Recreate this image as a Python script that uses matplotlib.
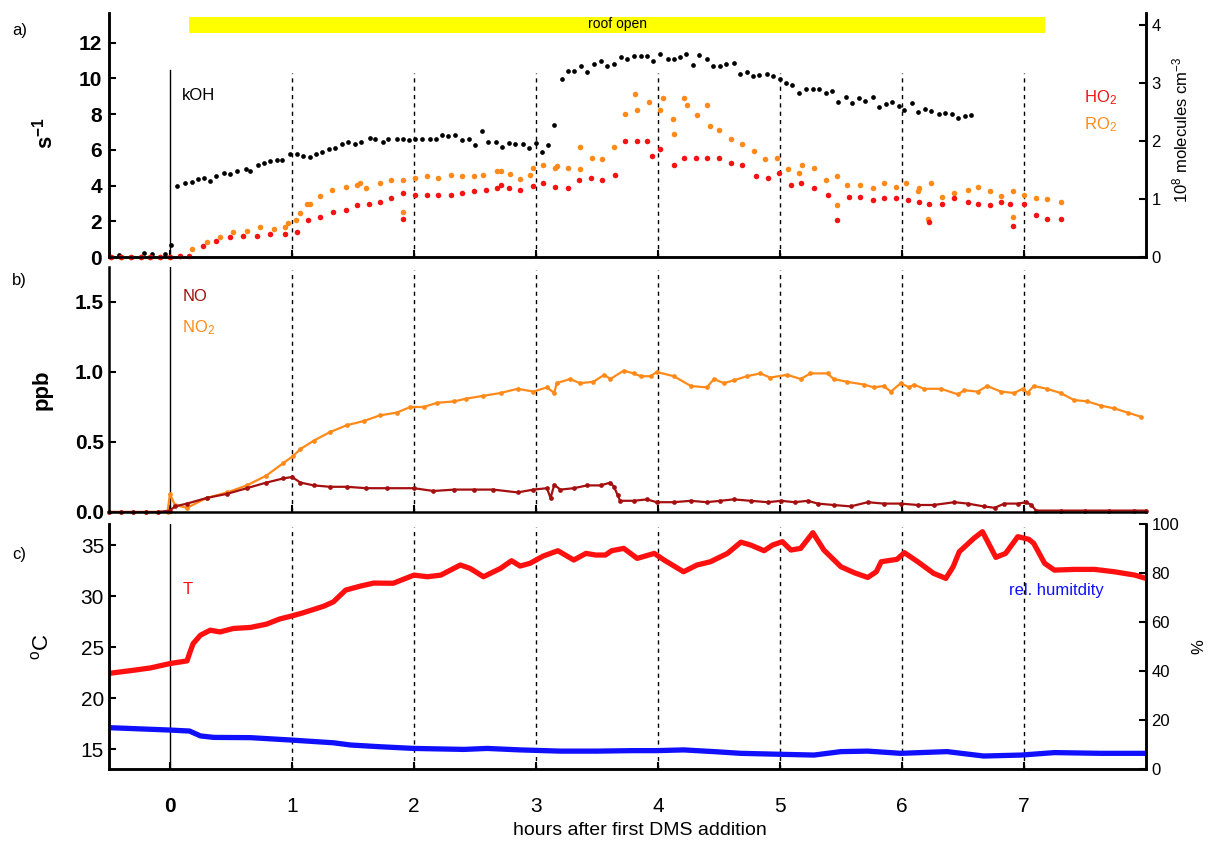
import matplotlib
matplotlib.use("Agg")
import matplotlib.pyplot as plt

plt.rcParams["font.family"] = ["Liberation Sans", "DejaVu Sans"]
plt.rcParams["mathtext.default"] = "regular"

# ---- data (hours after first DMS addition) ----
roof_open = (0.16, 7.17)

koh_t = [-0.42, -0.21, -0.15, -0.04, 0.01,
         0.06, 0.12, 0.18, 0.23, 0.28, 0.33, 0.38, 0.44, 0.49, 0.55,
         0.62, 0.66, 0.72, 0.77, 0.82, 0.88, 0.92, 0.98, 1.04, 1.09,
         1.15, 1.20, 1.25, 1.30, 1.35, 1.41, 1.46, 1.52, 1.57, 1.64,
         1.68, 1.75, 1.79, 1.86, 1.91, 1.96, 2.01, 2.07, 2.13, 2.18,
         2.23, 2.28, 2.34, 2.39, 2.45, 2.50, 2.56, 2.61, 2.67, 2.72,
         2.78, 2.83, 2.89, 2.94, 3.00, 3.05, 3.10, 3.15, 3.21, 3.26,
         3.31, 3.37, 3.42, 3.48, 3.53, 3.58, 3.64, 3.70, 3.75, 3.80,
         3.86, 3.91, 3.96, 4.02, 4.08, 4.13, 4.18, 4.23, 4.29, 4.34,
         4.40, 4.45, 4.51, 4.56, 4.62, 4.67, 4.73, 4.78, 4.83, 4.89,
         4.94, 5.00, 5.05, 5.10, 5.16, 5.21, 5.27, 5.32, 5.38, 5.43,
         5.48, 5.54, 5.59, 5.65, 5.70, 5.76, 5.81, 5.87, 5.92, 5.98,
         6.02, 6.08, 6.13, 6.19, 6.24, 6.30, 6.35, 6.41, 6.46, 6.52,
         6.57]
koh = [0.13, 0.23, 0.19, 0.19, 0.66,
       3.99, 4.12, 4.22, 4.37, 4.41, 4.26, 4.56, 4.71, 4.62, 4.84,
       4.95, 4.79, 5.14, 5.28, 5.35, 5.41, 5.45, 5.75, 5.75, 5.67,
       5.59, 5.79, 5.90, 6.03, 6.12, 6.35, 6.44, 6.31, 6.46, 6.69,
       6.58, 6.44, 6.58, 6.63, 6.58, 6.54, 6.58, 6.59, 6.58, 6.63,
       6.84, 6.76, 6.82, 6.54, 6.63, 6.27, 7.05, 6.42, 6.42, 6.18,
       6.37, 6.35, 6.33, 6.10, 6.40, 5.90, 6.27, 7.40, 9.98, 10.40,
       10.40, 10.72, 10.36, 10.83, 11.00, 10.72, 10.79, 11.21, 11.06, 11.28,
       11.24, 11.28, 10.98, 11.38, 11.10, 11.06, 11.19, 11.38, 10.77, 11.32,
       11.06, 10.68, 10.68, 10.79, 10.85, 10.23, 10.38, 10.11, 10.17, 10.25,
       10.11, 9.97, 9.74, 9.63, 9.21, 9.42, 9.40, 9.40, 9.21, 9.27,
       8.70, 8.98, 8.64, 8.89, 8.74, 8.95, 8.38, 8.57, 8.70, 8.47,
       8.23, 8.64, 8.14, 8.29, 8.19, 7.99, 8.08, 8.01, 7.80, 7.91,
       7.95]

# HO2 / RO2 in 1e8 molecules cm-3
ro2_t = [-0.48, -0.40, -0.32, -0.24, -0.16, -0.08, 0.00, 0.08,
         0.18, 0.30, 0.41, 0.52, 0.63, 0.74, 0.85, 0.94, 0.97, 1.03,
         1.07, 1.12, 1.15, 1.23, 1.33, 1.44, 1.53, 1.56, 1.61, 1.72,
         1.81, 1.91, 1.91, 2.01, 2.11, 2.20, 2.30, 2.39, 2.49, 2.57,
         2.68, 2.71, 2.79, 2.87, 2.95, 2.98, 3.06, 3.16, 3.17, 3.26,
         3.36, 3.36, 3.46, 3.54, 3.64, 3.73, 3.81, 3.83, 3.93, 4.02,
         4.04, 4.12, 4.13, 4.21, 4.24, 4.32, 4.40, 4.43, 4.50, 4.60,
         4.69, 4.79, 4.88, 4.98, 5.07, 5.16, 5.18, 5.28, 5.38, 5.47,
         5.47, 5.55, 5.66, 5.76, 5.85, 5.95, 6.03, 6.13, 6.14, 6.21,
         6.24, 6.33, 6.43, 6.54, 6.62, 6.72, 6.81, 6.91, 6.91, 7.00,
         7.10, 7.19, 7.30]
ro2 = [0, 0, 0, 0, 0, 0, 0, 0.01,
       0.135, 0.25, 0.34, 0.425, 0.455, 0.51, 0.49, 0.51, 0.58, 0.63,
       0.75, 0.92, 0.91, 1.05, 1.16, 1.21, 1.24, 1.28, 1.19, 1.27,
       1.32, 0.78, 1.33, 1.36, 1.39, 1.36, 1.42, 1.40, 1.39, 1.42,
       1.48, 1.48, 1.43, 1.35, 1.42, 1.54, 1.59, 1.54, 1.56, 1.54,
       1.51, 1.89, 1.71, 1.68, 1.89, 2.47, 2.80, 2.53, 2.67, 2.53,
       2.73, 2.38, 2.12, 2.73, 2.61, 2.44, 2.61, 2.26, 2.18, 2.03,
       1.94, 1.83, 1.68, 1.71, 1.51, 1.45, 1.59, 1.54, 1.33, 1.39,
       0.89, 1.24, 1.24, 1.19, 1.27, 1.21, 1.27, 1.13, 1.19, 0.66,
       1.28, 1.04, 1.11, 1.16, 1.20, 1.13, 1.05, 1.13, 0.69, 1.07,
       1.01, 1.00, 0.95]

ho2_t = [-0.48, -0.40, -0.32, -0.24, -0.16, -0.08, 0.00, 0.08,
         0.16, 0.27, 0.38, 0.49, 0.60, 0.71, 0.82, 0.94, 1.04, 1.13,
         1.23, 1.34, 1.44, 1.53, 1.63, 1.72, 1.81, 1.91, 1.91, 2.01,
         2.11, 2.20, 2.30, 2.39, 2.49, 2.59, 2.68, 2.71, 2.78, 2.87,
         2.98, 3.06, 3.16, 3.26, 3.35, 3.45, 3.54, 3.65, 3.73, 3.83,
         3.91, 3.95, 4.02, 4.13, 4.21, 4.31, 4.40, 4.50, 4.60, 4.69,
         4.80, 4.90, 4.99, 5.09, 5.17, 5.28, 5.39, 5.47, 5.57, 5.66,
         5.76, 5.85, 5.95, 6.05, 6.14, 6.22, 6.22, 6.33, 6.43, 6.54,
         6.62, 6.72, 6.81, 6.89, 6.91, 7.00, 7.10, 7.19, 7.30]
ho2 = [0, 0, 0, 0, 0, 0, 0, 0.01,
       0.02, 0.19, 0.28, 0.34, 0.37, 0.37, 0.40, 0.40, 0.43, 0.63,
       0.69, 0.78, 0.81, 0.89, 0.92, 0.95, 1.01, 0.66, 1.10, 1.07,
       1.07, 1.07, 1.07, 1.10, 1.13, 1.16, 1.19, 1.24, 1.19, 1.16,
       1.23, 1.27, 1.21, 1.19, 1.33, 1.36, 1.33, 1.42, 2.00, 2.00,
       2.00, 1.74, 1.86, 1.59, 1.71, 1.71, 1.71, 1.71, 1.62, 1.59,
       1.39, 1.36, 1.44, 1.24, 1.27, 1.19, 1.07, 0.63, 1.04, 1.04,
       0.98, 1.01, 1.01, 0.98, 0.95, 0.60, 0.92, 0.92, 1.01, 0.95,
       0.91, 0.89, 0.95, 0.91, 0.54, 0.92, 0.72, 0.66, 0.66]

# NO / NO2 in ppb
no2_t = [-0.50, -0.40, -0.30, -0.20, -0.10, -0.02, 0.00, 0.04, 0.14, 0.30,
         0.47, 0.63, 0.79, 0.93, 1.01, 1.07, 1.18, 1.31, 1.45, 1.59,
         1.72, 1.86, 1.97, 2.08, 2.19, 2.33, 2.43, 2.57, 2.71, 2.85,
         2.98, 3.09, 3.15, 3.17, 3.28, 3.36, 3.47, 3.56, 3.61, 3.72,
         3.80, 3.86, 3.94, 3.99, 4.13, 4.27, 4.40, 4.46, 4.54, 4.62,
         4.73, 4.84, 4.92, 5.06, 5.17, 5.25, 5.39, 5.44, 5.55, 5.69,
         5.77, 5.85, 5.91, 5.99, 6.06, 6.10, 6.18, 6.32, 6.46, 6.51,
         6.62, 6.70, 6.81, 6.92, 6.99, 7.03, 7.08, 7.19, 7.30, 7.41,
         7.52, 7.63, 7.74, 7.85, 7.96]
no2 = [0, 0, 0, 0, 0, 0, 0.13, 0.05, 0.03, 0.10,
       0.14, 0.19, 0.26, 0.35, 0.40, 0.45, 0.51, 0.57, 0.62, 0.65,
       0.69, 0.71, 0.75, 0.75, 0.78, 0.79, 0.81, 0.83, 0.85, 0.88,
       0.86, 0.89, 0.85, 0.92, 0.95, 0.92, 0.93, 0.98, 0.95, 1.01,
       0.99, 0.97, 0.97, 1.00, 0.97, 0.90, 0.89, 0.95, 0.92, 0.94,
       0.97, 0.99, 0.96, 0.98, 0.95, 0.99, 0.99, 0.95, 0.93, 0.91,
       0.89, 0.90, 0.86, 0.92, 0.89, 0.91, 0.88, 0.88, 0.84, 0.87,
       0.86, 0.90, 0.86, 0.85, 0.88, 0.85, 0.90, 0.88, 0.85, 0.80,
       0.79, 0.76, 0.74, 0.71, 0.68]

no_t = [-0.50, -0.40, -0.30, -0.20, -0.10, 0.00, 0.04, 0.14, 0.30, 0.47,
        0.63, 0.79, 0.93, 1.00, 1.07, 1.18, 1.31, 1.45, 1.61, 1.78,
        2.00, 2.16, 2.33, 2.49, 2.65, 2.85, 2.98, 3.09, 3.12, 3.15,
        3.20, 3.31, 3.42, 3.53, 3.61, 3.64, 3.67, 3.69, 3.80, 3.91,
        3.99, 4.13, 4.27, 4.40, 4.51, 4.62, 4.76, 4.90, 5.01, 5.12,
        5.23, 5.31, 5.44, 5.58, 5.72, 5.85, 5.99, 6.13, 6.26, 6.43,
        6.54, 6.67, 6.76, 6.84, 6.95, 7.02, 7.06, 7.10, 7.30, 7.50,
        7.70, 7.90, 8.00]
no = [0, 0, 0, 0, 0, 0.01, 0.04, 0.06, 0.10, 0.13,
      0.17, 0.21, 0.24, 0.25, 0.21, 0.19, 0.18, 0.18, 0.17, 0.17,
      0.17, 0.15, 0.16, 0.16, 0.16, 0.14, 0.16, 0.17, 0.10, 0.195,
      0.16, 0.17, 0.19, 0.19, 0.21, 0.18, 0.12, 0.08, 0.08, 0.09,
      0.07, 0.07, 0.08, 0.07, 0.08, 0.09, 0.08, 0.07, 0.08, 0.07,
      0.08, 0.06, 0.05, 0.04, 0.07, 0.06, 0.06, 0.05, 0.05, 0.07,
      0.06, 0.04, 0.03, 0.06, 0.06, 0.07, 0.05, 0.01, 0.01, 0.01,
      0.01, 0.01, 0.01]

# temperature (degC) and relative humidity (%)
temp_t = [-0.51, -0.30, -0.16, 0.00, 0.14, 0.16, 0.19, 0.25, 0.33, 0.41,
          0.52, 0.66, 0.79, 0.90, 1.00, 1.09, 1.26, 1.34, 1.44, 1.56,
          1.67, 1.83, 2.00, 2.11, 2.22, 2.38, 2.46, 2.57, 2.71, 2.80,
          2.87, 2.95, 3.06, 3.18, 3.31, 3.41, 3.49, 3.57, 3.62, 3.72,
          3.83, 3.97, 4.05, 4.21, 4.32, 4.43, 4.57, 4.68, 4.76, 4.87,
          4.94, 5.02, 5.09, 5.17, 5.27, 5.36, 5.50, 5.61, 5.72, 5.79,
          5.83, 5.96, 6.02, 6.13, 6.26, 6.36, 6.42, 6.47, 6.59, 6.66,
          6.77, 6.85, 6.95, 7.04, 7.08, 7.17, 7.25, 7.41, 7.58, 7.74,
          7.91, 8.00]
temp = [22.40, 22.72, 22.95, 23.38, 23.64, 24.36, 25.34, 26.16, 26.65, 26.48,
        26.82, 26.92, 27.24, 27.75, 28.05, 28.35, 29.00, 29.43, 30.58, 30.97,
        31.27, 31.25, 32.05, 31.89, 32.05, 33.04, 32.71, 31.89, 32.71, 33.46,
        32.94, 33.20, 33.92, 34.44, 33.53, 34.18, 34.02, 34.02, 34.44, 34.67,
        33.69, 34.18, 33.53, 32.38, 33.04, 33.36, 34.18, 35.28, 35.00, 34.44,
        35.00, 35.33, 34.51, 34.67, 36.21, 34.51, 32.87, 32.28, 31.82, 32.38,
        33.36, 33.60, 34.25, 33.36, 32.22, 31.73, 32.87, 34.34, 35.66, 36.31,
        33.79, 34.18, 35.82, 35.56, 35.17, 33.20, 32.54, 32.61, 32.61, 32.38,
        32.05, 31.73]

rh_t = [-0.51, 0.00, 0.16, 0.25, 0.36, 0.66, 1.00, 1.34, 1.48, 1.72,
        2.00, 2.41, 2.60, 2.87, 3.20, 3.50, 3.78, 3.99, 4.21, 4.46,
        4.68, 5.01, 5.28, 5.50, 5.72, 5.99, 6.37, 6.67, 6.98, 7.25,
        7.63, 8.00]
rh = [16.9, 15.9, 15.5, 13.5, 12.9, 12.8, 11.8, 10.7, 9.8, 9.1,
      8.4, 8.0, 8.4, 7.8, 7.3, 7.3, 7.5, 7.5, 7.8, 7.1,
      6.4, 6.0, 5.7, 7.1, 7.3, 6.4, 7.1, 5.3, 5.7, 6.7,
      6.4, 6.4]

hour_ticks = [0, 1, 2, 3, 4, 5, 6, 7]

C_HO2 = "#f51414"
C_RO2 = "#ff8a1a"
C_NO = "#a50f0f"
C_T = "#ff1010"
C_RH = "#1010ff"


def setup_panel(ax, right_spine, vline_top):
    ax.set_xlim(-0.5, 8.0)
    ax.spines["top"].set_visible(False)
    ax.spines["right"].set_visible(right_spine)
    for s in ("left", "bottom", "right"):
        ax.spines[s].set_linewidth(1.8)
    ax.tick_params(direction="in", length=5, width=1.5)
    ax.set_xticks(hour_ticks)
    ax.set_xticklabels([])
    ax.axvline(0, ymax=vline_top, color="black", lw=1.0, zorder=1)
    for h in hour_ticks[1:]:
        ax.axvline(h, ymax=vline_top - 0.012, color="black", lw=1.0,
                   ls=(0, (3, 3)), zorder=1)


fig = plt.figure(figsize=(12.08, 8.46), dpi=100)
ax_a = fig.add_axes([0.0902, 0.6962, 0.8584, 0.2884])
ax_b = fig.add_axes([0.0902, 0.3948, 0.8584, 0.2896])
ax_c = fig.add_axes([0.0902, 0.0910, 0.8584, 0.2896])

# ---- a) kOH, HO2, RO2 ----
setup_panel(ax_a, True, 0.766)
ax_a.set_ylim(0, 13.66)
ax_a.set_yticks(range(0, 13, 2))
ax_a.set_yticklabels([str(v) for v in range(0, 13, 2)], fontsize=15,
                     fontweight="bold")
ax_a.tick_params(axis="y", pad=5)
ax_a.plot(koh_t, koh, "o", color="black", ms=3.4, mec="none", clip_on=False)
ax_a.axvspan(roof_open[0], roof_open[1], ymin=0.918, ymax=0.984,
             color="#ffff00", lw=0)
ax_a.text(sum(roof_open) / 2, 13.05, "roof open", fontsize=10,
          ha="center", va="center")
ax_a.text(0.1, 9.07, "kOH", fontsize=12, ha="left", va="center")

ax_ar = ax_a.twinx()
ax_ar.set_xlim(-0.5, 8.0)
ax_ar.set_ylim(0, 4.2)
ax_ar.spines["top"].set_visible(False)
for s in ("left", "bottom", "right"):
    ax_ar.spines[s].set_linewidth(1.8)
ax_ar.tick_params(direction="in", length=5, width=1.5, labelsize=12, pad=4)
ax_ar.set_yticks([0, 1, 2, 3, 4])
ax_ar.plot(ro2_t, ro2, "o", color=C_RO2, ms=4.0, mec="none", clip_on=False)
ax_ar.plot(ho2_t, ho2, "o", color=C_HO2, ms=4.0, mec="none", clip_on=False)
ax_ar.text(7.49, 2.75, "HO$_2$", color=C_HO2, fontsize=12, ha="left",
           va="center")
ax_ar.text(7.49, 2.27, "RO$_2$", color=C_RO2, fontsize=12, ha="left",
           va="center")

# ---- b) NO, NO2 ----
setup_panel(ax_b, False, 1.0)
ax_b.set_ylim(0, 1.75)
ax_b.set_yticks([0, 0.5, 1.0, 1.5])
ax_b.set_yticklabels(["0.0", "0.5", "1.0", "1.5"], fontsize=15,
                     fontweight="bold")
ax_b.plot(no2_t, no2, "-o", color=C_RO2, lw=1.6, ms=3.4, mec="none",
          clip_on=False)
ax_b.plot(no_t, no, "-o", color=C_NO, lw=1.6, ms=3.4, mec="none",
          clip_on=False)
ax_b.text(0.1, 1.54, "NO", color=C_NO, fontsize=12, ha="left", va="center")
ax_b.text(0.1, 1.32, "NO$_2$", color=C_RO2, fontsize=12, ha="left",
          va="center")

# ---- c) temperature and humidity ----
setup_panel(ax_c, True, 1.0)
ax_c.set_ylim(13.04, 37.06)
ax_c.set_yticks([15, 20, 25, 30, 35])
ax_c.tick_params(axis="y", labelsize=15)
ax_c.set_xticklabels([str(h) for h in hour_ticks], fontsize=15)
ax_c.get_xticklabels()[0].set_fontweight("bold")
ax_c.tick_params(axis="x", pad=20)
ax_c.plot(temp_t, temp, "-", color=C_T, lw=3.8, solid_capstyle="round")
ax_c.text(0.1, 30.6, "T", color=C_T, fontsize=12, ha="left", va="center")

ax_cr = ax_c.twinx()
ax_cr.set_xlim(-0.5, 8.0)
ax_cr.set_ylim(0, 100)
ax_cr.spines["top"].set_visible(False)
for s in ("left", "bottom", "right"):
    ax_cr.spines[s].set_linewidth(1.8)
ax_cr.tick_params(direction="in", length=5, width=1.5, labelsize=12, pad=4)
ax_cr.set_yticks([0, 20, 40, 60, 80, 100])
ax_cr.plot(rh_t, rh, "-", color=C_RH, lw=3.8, solid_capstyle="round")
ax_cr.text(6.88, 73, "rel. humitdity", color=C_RH, fontsize=12, ha="left",
           va="center")

# ---- labels ----
fig.text(45 / 1208, 1 - 133 / 846, "s$^{-1}$", rotation=90, fontsize=16,
         fontweight="bold", ha="center", va="center")
fig.text(42 / 1208, 1 - 390 / 846, "ppb", rotation=90, fontsize=16,
         fontweight="bold", ha="center", va="center")
fig.text(42 / 1208, 1 - 647 / 846, "$^o$C", rotation=90, fontsize=16,
         ha="center", va="center")
fig.text(1180 / 1208, 1 - 130 / 846, "10$^8$ molecules cm$^{-3}$",
         rotation=90, fontsize=12, ha="center", va="center")
fig.text(1199 / 1208, 1 - 647 / 846, "%", rotation=90, fontsize=12,
         ha="center", va="center")
fig.text(640 / 1208, 1 - 830 / 846, "hours after first DMS addition",
         fontsize=14, ha="center", va="center")
for lab, y in (("a)", 30), ("b)", 280), ("c)", 555)):
    fig.text(12 / 1208, 1 - y / 846, lab, fontsize=12, ha="left",
             va="center")

fig.savefig("out.png", dpi=100)
